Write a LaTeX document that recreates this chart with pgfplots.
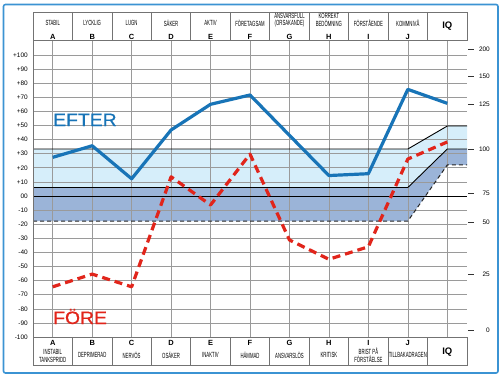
\documentclass[border=0pt]{standalone}
\usepackage{fontspec}
\setmainfont{Liberation Sans}
\newfontfamily\cond[FakeStretch=0.57]{Liberation Sans}
\newfontfamily\wide[FakeStretch=1.08,FakeBold=0.6]{Liberation Sans}
\usepackage{pgfplots}
\pgfplotsset{compat=1.18}
\definecolor{efter}{HTML}{1874B7}
\definecolor{fore}{HTML}{E1251B}
\definecolor{lightband}{HTML}{D6EEFA}
\definecolor{darkband}{HTML}{9BB4D8}
\definecolor{framec}{HTML}{3B93D3}
\definecolor{gridc}{HTML}{9A9A9A}
\begin{document}
\begin{tikzpicture}
\begin{axis}[
  at={(0,0)}, anchor=south west,
  scale only axis, width=434bp, height=297bp,
  xmin=0.5, xmax=11.5, ymin=-100, ymax=110.6,
  xtick={1,...,11}, xticklabels={,,,,,,,,,,},
  ytick={-100,-90,...,100},
  yticklabels={-100,-90,-80,-70,-60,-50,-40,-30,-20,-10,00,+10,+20,+30,+40,+50,+60,+70,+80,+90,+100},
  xmajorgrids, ymajorgrids,
  grid style={gridc, line width=0.6bp},
  major tick length=0pt,
  axis line style={draw=none},
  yticklabel style={font=\fontsize{6.5}{7}\selectfont, inner sep=0pt, anchor=east, xshift=-5bp},
  set layers, no markers,
]
% bands
\addplot[fill=lightband, draw=none, on layer=axis background] coordinates
  {(0.5,6)(10,6)(11,33.3)(11.5,33.3)(11.5,49.6)(11,49.6)(10,33.3)(0.5,33.3)};
\addplot[fill=darkband, draw=none, on layer=axis background] coordinates
  {(0.5,-17.8)(10,-17.8)(11,22)(11.5,22)(11.5,33.3)(11,33.3)(10,6)(0.5,6)};
% band lines
\addplot[black, line width=0.9bp] coordinates {(0.5,33.3)(10,33.3)(11,49.6)(11.5,49.6)};
\addplot[black, line width=0.9bp] coordinates {(0.5,6)(10,6)(11,33.3)(11.5,33.3)};
\addplot[black, line width=0.9bp] coordinates {(0.5,0)(11.5,0)};
\addplot[black!85, line width=1bp, dash pattern=on 4bp off 3bp] coordinates {(0.5,-17.8)(10,-17.8)(11,22)(11.5,22)};
% EFTER
\addplot[efter, line width=3.2bp, line join=round] coordinates
  {(1,27.4)(2,35.6)(3,12.2)(4,46.8)(5,65)(6,71.6)(7,43)(8,14.5)(9,15.8)(10,75.6)(11,65.7)};
% FÖRE
\addplot[fore, line width=3.2bp, line join=round, dash pattern=on 8bp off 5bp] coordinates
  {(1,-64.4)(2,-55.4)(3,-64.4)(4,13.6)(5,-6.4)(6,29.7)(7,-31.2)(8,-44.9)(9,-36)(10,26.2)(11,38.3)};
\end{axis}
\begin{scope}[x=1bp, y=-1bp, shift={(-33bp,337bp)}]
\path (0,0) rectangle (500,378);
\draw[framec, line width=1.6bp, rounded corners=2bp] (3.5,4.5) rectangle (498,373);
\tikzset{hdr/.style={draw=black!55, line width=0.7bp}}
\draw[hdr] (33,12) rectangle (467,40);
\draw[hdr] (33,337) rectangle (467,365);
\draw[hdr] (33,40) -- (33,337);
\foreach \k in {1,...,10} {
  \draw[hdr] ({33+\k*39.4545},12) -- ({33+\k*39.4545},40);
  \draw[hdr] ({33+\k*39.4545},337) -- ({33+\k*39.4545},365);
}
\tikzset{nm/.style={font=\cond\fontsize{7.5}{7.7}\selectfont, align=center, inner sep=0pt},
         lt/.style={font=\bfseries\fontsize{7.5}{8}\selectfont, inner sep=1.2bp, fill=white},
         iq/.style={font=\bfseries\fontsize{9.5}{10}\selectfont, inner sep=0pt}}
% top names
\node[nm] at (52.7,23) {STABIL};
\node[nm] at (92.2,23) {LYCKLIG};
\node[nm] at (131.6,23) {LUGN};
\node[nm] at (171.1,23) {SÄKER};
\node[nm] at (210.5,23) {AKTIV};
\node[nm] at (250.0,23) {FÖRETAGSAM};
\node[nm] at (289.5,20) {ANSVARSFULL\\(ORSAKANDE)};
\node[nm] at (328.9,20) {KORREKT\\BEDÖMNING};
\node[nm] at (368.4,23) {FÖRSTÅENDE};
\node[nm] at (407.8,23) {KOMMNIVÅ};
\node[iq] at (447.3,26) {IQ};
% top letters
\foreach \c/\l in {52.7/A,92.2/B,131.6/C,171.1/D,210.5/E,250.0/F,289.5/G,328.9/H,368.4/I,407.8/J}
  \node[lt] at (\c,36.5) {\l};
% bottom letters
\foreach \c/\l in {52.7/A,92.2/B,131.6/C,171.1/D,210.5/E,250.0/F,289.5/G,328.9/H,368.4/I,407.8/J}
  \node[lt, fill=none] at (\c,343.3) {\l};
% bottom names
\node[nm] at (52.7,355.7) {INSTABIL\\TANKSPRIDD};
\node[nm] at (92.2,355) {DEPRIMERAD};
\node[nm] at (131.6,355) {NERVÖS};
\node[nm] at (171.1,355) {OSÄKER};
\node[nm] at (210.5,355) {INAKTIV};
\node[nm] at (250.0,355) {HÄMMAD};
\node[nm] at (289.5,355) {ANSVARSLÖS};
\node[nm] at (328.9,355) {KRITISK};
\node[nm] at (368.4,355.5) {BRIST PÅ\\FÖRSTÅELSE};
\node[nm] at (407.8,355) {TILLBAKADRAGEN};
\node[iq] at (447.3,352) {IQ};
% right scale
\foreach \y/\t in {49/200,76/150,104/125,149/100,193/75,222/50,274/25,330/0} {
  \draw[black!80, line width=0.8bp] (468,\y) -- (474,\y);
  \node[anchor=east, inner sep=0pt, font=\fontsize{6.5}{7}\selectfont] at (490,\y) {\t};
}
% big labels
\node[anchor=base west, inner sep=0pt, text=efter, font=\wide\fontsize{18}{18}\selectfont] at (53,126) {EFTER};
\node[anchor=base west, inner sep=0pt, text=fore, font=\wide\fontsize{18}{18}\selectfont] at (53,324) {FÖRE};
\end{scope}
\end{tikzpicture}
\end{document}
